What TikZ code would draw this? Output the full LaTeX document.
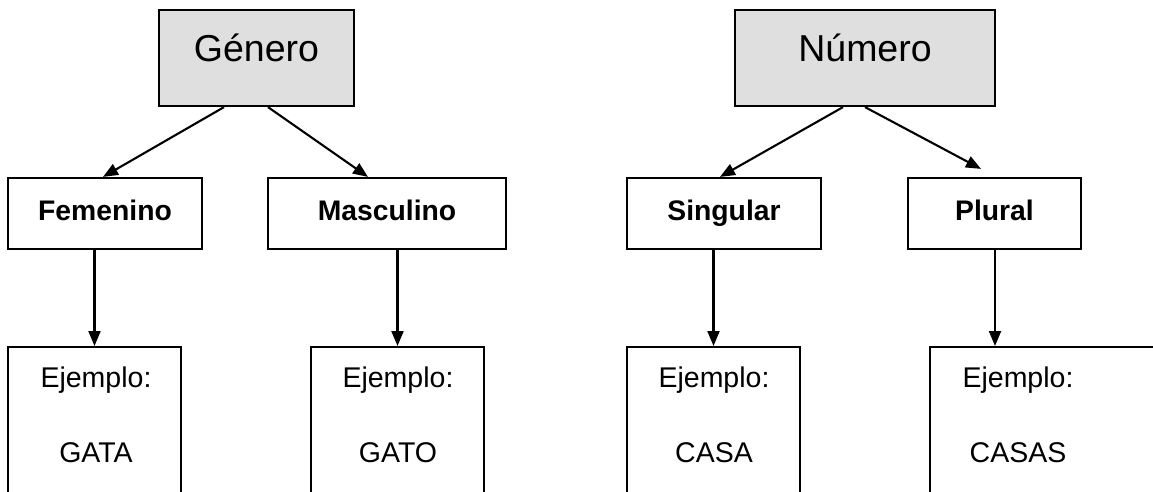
\documentclass[tikz,border=0pt]{standalone}
\usepackage{fontspec}
\setmainfont{Liberation Sans}
\usetikzlibrary{arrows.meta}
\definecolor{hdrgray}{HTML}{DFDFDF}
\tikzset{
  conn/.style={line width=2.1pt, -{Triangle[length=15pt,width=12pt]}},
  hdrbox/.style={draw, line width=2.2pt, fill=hdrgray, inner sep=0pt, anchor=base,
    text height=51pt, text depth=45pt, font=\fontsize{37.5}{45}\selectfont},
  midbox/.style={draw, line width=2.2pt, fill=white, inner sep=0pt, anchor=base,
    text height=42pt, text depth=29pt, font=\fontsize{28.3}{34}\selectfont\bfseries},
  exbox/.style={draw, line width=2.2pt, inner sep=0pt, anchor=north, minimum height=180pt},
  extext/.style={anchor=base, inner sep=0pt, font=\fontsize{28.5}{34}\selectfont}
}
\begin{document}
\begin{tikzpicture}[x=1pt,y=-1pt]
\useasboundingbox (0,0) rectangle (1153,491);
\clip (0,0) rectangle (1153,491);
% headers
\node[hdrbox, minimum width=195pt] (gen) at (256.5,61) {Género};
\node[hdrbox, minimum width=260pt] (num) at (865,61) {Número};
% middle
\node[midbox, minimum width=194pt] (fem) at (105,220) {Femenino};
\node[midbox, minimum width=238pt] (mas) at (387,220) {Masculino};
\node[midbox, minimum width=194pt] (sin) at (724,220) {Singular};
\node[midbox, minimum width=173pt] (plu) at (994.5,220) {Plural};
% example boxes
\node[exbox, minimum width=173pt] (ex1) at (94.5,346) {};
\node[exbox, minimum width=173pt] (ex2) at (397.5,346) {};
\node[exbox, minimum width=173pt] (ex3) at (713.5,346) {};
\node[exbox, minimum width=250pt] (ex4) at (1055,346) {};
\node[extext] (e1a) at (96,387) {Ejemplo:};
\node[extext] (e1b) at (96,462) {GATA};
\node[extext] (e2a) at (398,387) {Ejemplo:};
\node[extext] (e2b) at (398,462) {GATO};
\node[extext] (e3a) at (714,387) {Ejemplo:};
\node[extext] (e3b) at (714,462) {CASA};
\node[extext] (e4a) at (1018,387) {Ejemplo:};
\node[extext] (e4b) at (1018,462) {CASAS};
% connectors
\draw[conn] ([xshift=-32.5pt]gen.south) -- ([xshift=-2pt]fem.north);
\draw[conn] ([xshift=11.5pt]gen.south) -- ([xshift=-19pt]mas.north);
\draw[conn] ([xshift=-22pt]num.south) -- ([xshift=-4pt]sin.north);
\draw[conn] (num.south) -- ([xshift=-13.5pt,yshift=8pt]plu.north);
\draw[conn] (ex1.north |- fem.south) -- (ex1.north);
\draw[conn] (ex2.north |- mas.south) -- (ex2.north);
\draw[conn] (ex3.north |- sin.south) -- (ex3.north);
\draw[conn] ([xshift=0.5pt]plu.south) -- ([xshift=0.5pt]plu.south |- ex4.north);
\end{tikzpicture}
\end{document}
